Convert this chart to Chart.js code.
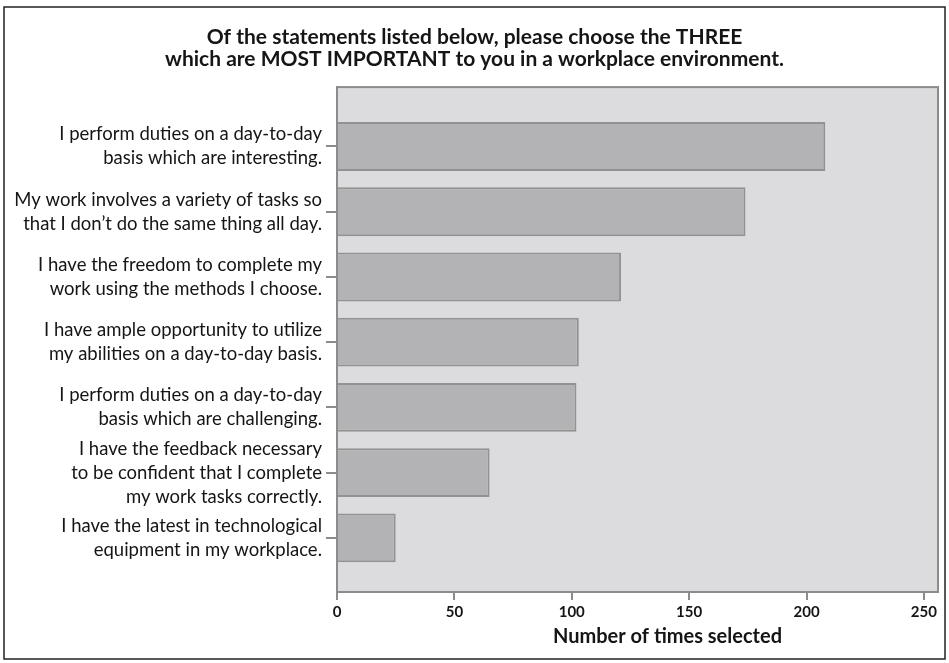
<!DOCTYPE html>
<html>
<head>
<meta charset="utf-8">
<script src="https://cdn.jsdelivr.net/npm/chart.js@4.4.1/dist/chart.umd.min.js"></script>
<style>
    html, body { margin: 0; padding: 0; background: #fff; }
    #wrap { width: 949px; height: 663px; position: relative; }
</style>
</head>
<body>
<div id="wrap"><canvas id="chart"></canvas></div>
<script>
// Afirmaciones de la encuesta (una línea por elemento del arreglo)
const STATEMENTS = [
    ['I perform duties on a day-to-day', 'basis which are interesting.'],
    ['My work involves a variety of tasks so', 'that I don\u2019t do the same thing all day.'],
    ['I have the freedom to complete my', 'work using the methods I choose.'],
    ['I have ample opportunity to utilize', 'my abilities on a day-to-day basis.'],
    ['I perform duties on a day-to-day', 'basis which are challenging.'],
    ['I have the feedback necessary', 'to be confident that I complete', 'my work tasks correctly.'],
    ['I have the latest in technological', 'equipment in my workplace.']
];

// Número de veces que se eligió cada afirmación
const TIMES_SELECTED = [208, 174, 121, 103, 102, 65, 25];

// Marcas del eje X
const X_TICKS = [0, 50, 100, 150, 200, 250];

const CHART_TITLE = [
    'Of the statements listed below, please choose the THREE',
    'which are MOST IMPORTANT to you in a workplace environment.'
];
const X_TITLE = 'Number of times selected';

const FONT = 'Lato, "Open Sans", sans-serif';
const TEXT_COLOR = '#151515';
const AXIS_COLOR = '#8c8c8c';

// Plugin para el fondo gris del área, el marco exterior y el título del eje X
const plotDecor = {
    id: 'plotDecor',
    beforeDraw: (chart) => {
        const { ctx, chartArea: a } = chart;
        ctx.save();
        ctx.fillStyle = '#fff';
        ctx.fillRect(0, 0, chart.width, chart.height);
        ctx.strokeStyle = '#222';
        ctx.lineWidth = 1.5;
        ctx.strokeRect(4, 7, 941, 652);
        ctx.fillStyle = '#dcdcde';
        ctx.fillRect(a.left, a.top, a.right - a.left, a.bottom - a.top);
        ctx.restore();
    },
    afterDatasetsDraw: (chart) => {
        const { ctx, chartArea: a } = chart;
        ctx.save();
        ctx.strokeStyle = AXIS_COLOR;
        ctx.lineWidth = 2;
        ctx.strokeRect(a.left, a.top, a.right - a.left, a.bottom - a.top);
        ctx.font = 'bold 20px ' + FONT;
        ctx.fillStyle = TEXT_COLOR;
        ctx.textAlign = 'center';
        ctx.textBaseline = 'middle';
        ctx.fillText(X_TITLE, (a.left + a.right) / 2 + 30, 637);
        ctx.restore();
    }
};

new Chart(document.getElementById('chart'), {
    type: 'bar',
    data: {
        datasets: [{
            data: TIMES_SELECTED.map((value, i) => ({ x: value, y: i })),
            backgroundColor: '#b3b3b5',
            borderColor: '#929292',
            borderWidth: 2,
            barPercentage: 0.75,
            categoryPercentage: 1
        }]
    },
    options: {
        indexAxis: 'y',
        responsive: true,
        maintainAspectRatio: false,
        animation: false,
        layout: {
            padding: { left: 11, right: 11, top: 0, bottom: 0 }
        },
        plugins: {
            legend: { display: false },
            tooltip: { enabled: false },
            title: {
                display: true,
                text: CHART_TITLE,
                color: TEXT_COLOR,
                font: { family: FONT, size: 21, weight: 'bold', lineHeight: 1.05 },
                padding: { top: 26, bottom: 17 }
            }
        },
        scales: {
            x: {
                type: 'linear',
                min: 0,
                max: 256,
                afterBuildTicks: (scale) => {
                    scale.ticks = X_TICKS.map(v => ({ value: v }));
                },
                afterFit: (scale) => {
                    scale.height = 71;
                },
                ticks: {
                    color: TEXT_COLOR,
                    font: { family: FONT, size: 15, weight: 'bold' },
                    padding: 3
                },
                grid: { drawOnChartArea: false, tickLength: 8, color: AXIS_COLOR, lineWidth: 2 },
                border: { display: true, color: AXIS_COLOR, width: 2 }
            },
            y: {
                type: 'linear',
                reverse: true,
                offset: false,
                min: -0.91,
                max: 6.83,
                afterBuildTicks: (scale) => {
                    scale.ticks = STATEMENTS.map((_, i) => ({ value: i }));
                },
                afterFit: (scale) => {
                    scale.width = 326;
                },
                ticks: {
                    autoSkip: false,
                    callback: (value) => STATEMENTS[value],
                    color: TEXT_COLOR,
                    font: { family: FONT, size: 18.5, lineHeight: 1.3 },
                    padding: 4
                },
                grid: { offset: false, drawOnChartArea: false, tickLength: 11, color: AXIS_COLOR, lineWidth: 2 },
                border: { display: true, color: AXIS_COLOR, width: 2 }
            }
        }
    },
    plugins: [plotDecor]
});
</script>
</body>
</html>
